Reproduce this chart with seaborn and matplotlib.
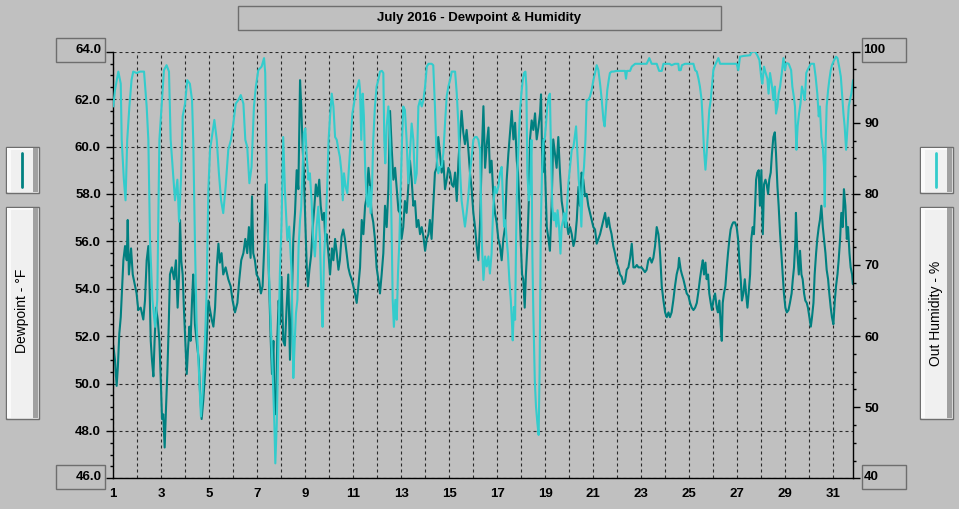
import matplotlib
matplotlib.use("Agg")
import matplotlib.pyplot as plt
from matplotlib.patches import Rectangle
from matplotlib.lines import Line2D
from matplotlib.ticker import MultipleLocator
import seaborn as sns

# ─── data ───────────────────────────────────────────────────────────────────
dew_days = [
    1.00, 1.07, 1.14, 1.19, 1.25, 1.31, 1.36, 1.42, 1.49, 1.56, 1.60, 1.65, 1.74, 1.81, 1.89, 1.97,
    2.04, 2.14, 2.25, 2.32, 2.39, 2.46, 2.50, 2.56, 2.61, 2.67, 2.72, 2.78, 2.85, 2.92, 2.97,
    3.03, 3.08, 3.14, 3.19, 3.25, 3.31, 3.36, 3.44, 3.53, 3.61, 3.68, 3.74, 3.78, 3.83, 3.89, 3.94,
    4.00, 4.06, 4.11, 4.17, 4.22, 4.28, 4.33, 4.40, 4.47, 4.56, 4.61, 4.68, 4.75, 4.82, 4.89, 4.96,
    5.03, 5.10, 5.17, 5.24, 5.31, 5.38, 5.44, 5.51, 5.58, 5.68, 5.79, 5.89, 5.97,
    6.07, 6.17, 6.25, 6.33, 6.42, 6.50, 6.58, 6.65, 6.72, 6.78, 6.83, 6.90, 6.97,
    7.07, 7.15, 7.22, 7.29, 7.35, 7.43, 7.50, 7.56, 7.61, 7.67, 7.72, 7.78, 7.83, 7.89, 7.94,
    8.01, 8.08, 8.15, 8.22, 8.29, 8.36, 8.43,
    8.50, 8.57, 8.64, 8.71, 8.78, 8.83, 8.89, 8.94, 9.00, 9.06, 9.11, 9.17, 9.24, 9.31, 9.38, 9.44,
    9.51, 9.58, 9.64, 9.71, 9.78, 9.83, 9.89, 9.96, 10.03, 10.11, 10.17, 10.24, 10.31, 10.38, 10.44,
    10.51, 10.58, 10.65, 10.72, 10.79, 10.86, 10.93, 11.00, 11.07, 11.14, 11.21, 11.28, 11.35, 11.42,
    11.49, 11.56, 11.63, 11.69, 11.76, 11.83, 11.90, 11.97, 12.04, 12.11, 12.18, 12.25, 12.32, 12.39,
    12.46, 12.53, 12.60, 12.67, 12.74, 12.81, 12.88, 12.94, 13.01, 13.08, 13.15, 13.22, 13.29, 13.36,
    13.43, 13.50, 13.57, 13.64, 13.71, 13.78, 13.85, 13.92, 13.99, 14.06, 14.13, 14.19, 14.26, 14.33,
    14.40, 14.47, 14.54, 14.61, 14.68, 14.75, 14.82, 14.89, 14.96, 15.03, 15.10, 15.17, 15.24, 15.31,
    15.38, 15.44, 15.51, 15.58, 15.65, 15.72, 15.79, 15.86, 15.93, 16.00, 16.07, 16.14, 16.21, 16.28,
    16.35, 16.42, 16.49, 16.56, 16.63, 16.69, 16.76, 16.83, 16.90, 16.97, 17.04, 17.11, 17.18, 17.25,
    17.32, 17.39, 17.46, 17.53, 17.60, 17.67, 17.74, 17.81, 17.86, 17.92, 17.97, 18.03, 18.08, 18.14,
    18.19, 18.25, 18.31, 18.36, 18.43, 18.50, 18.57, 18.64, 18.71, 18.78, 18.82, 18.88, 18.93, 18.99,
    19.06, 19.13, 19.19, 19.26, 19.33, 19.40, 19.47, 19.54, 19.61, 19.68, 19.75, 19.82, 19.89, 19.96,
    20.03, 20.10, 20.17, 20.24, 20.31, 20.38, 20.44, 20.51, 20.58, 20.65, 20.72, 20.79, 20.86, 20.93,
    21.00, 21.07, 21.14, 21.21, 21.28, 21.35, 21.42, 21.49, 21.56, 21.63, 21.69, 21.76, 21.83, 21.90,
    21.97, 22.04, 22.11, 22.18, 22.25, 22.32, 22.39, 22.46, 22.53, 22.60, 22.67, 22.74, 22.81, 22.88,
    22.94, 23.01, 23.08, 23.15, 23.22, 23.29, 23.36, 23.43, 23.50, 23.57, 23.64, 23.71, 23.75, 23.79,
    23.85, 23.92, 23.99, 24.06, 24.13,
    24.19, 24.26, 24.33, 24.40, 24.47, 24.54, 24.57, 24.64, 24.69, 24.75, 24.82, 24.89, 24.96,
    25.03, 25.10, 25.17, 25.24, 25.31, 25.38, 25.44, 25.51, 25.56, 25.61, 25.67, 25.72, 25.78, 25.83,
    25.89, 25.94, 26.00, 26.07, 26.14, 26.19, 26.25, 26.31, 26.35, 26.39, 26.44, 26.50, 26.56, 26.61,
    26.67, 26.72, 26.78, 26.83, 26.90, 26.97, 27.03, 27.08, 27.14, 27.19, 27.25, 27.31, 27.36, 27.42,
    27.47, 27.53, 27.58, 27.64, 27.69, 27.74, 27.78, 27.83, 27.89, 27.94, 28.00, 28.06, 28.11, 28.17,
    28.22, 28.28, 28.33, 28.39, 28.44, 28.50, 28.56, 28.61, 28.67, 28.72, 28.78, 28.83, 28.89, 28.94,
    29.00, 29.06, 29.13, 29.19, 29.26, 29.31, 29.36, 29.42, 29.44, 29.50, 29.56, 29.61, 29.67, 29.72,
    29.78, 29.83, 29.89, 29.94, 30.00, 30.06, 30.11, 30.17, 30.22, 30.28, 30.33, 30.39, 30.44, 30.50,
    30.56, 30.61, 30.67, 30.72, 30.78, 30.83, 30.89, 30.94, 31.00, 31.06, 31.11, 31.17, 31.22, 31.28,
    31.33, 31.39, 31.44, 31.50, 31.56, 31.61, 31.67, 31.72, 31.78, 31.81,
]
dew_vals = [
    51.6, 51.0, 49.9, 50.7, 52.1, 52.8, 53.9, 55.2, 55.8, 55.2, 56.9, 54.6, 55.7, 54.6, 54.2, 53.8,
    53.1, 53.2, 52.7, 53.5, 55.2, 55.8, 54.6, 51.8, 51.0, 50.3, 51.8, 53.2, 52.7, 51.8, 50.4,
    48.5, 48.7, 47.3, 48.8, 50.4, 52.5, 54.6, 54.9, 54.4, 55.2, 53.2, 54.6, 56.9, 55.2, 54.6, 53.2,
    51.8, 50.4, 51.4, 52.4, 51.8, 53.5, 54.6, 52.5, 51.8, 51.0, 49.7, 48.5, 49.3, 50.4, 51.8, 53.5,
    53.1, 52.7, 52.4, 53.2, 54.9, 55.9, 55.1, 55.5, 54.6, 54.9, 54.4, 54.1, 53.5,
    53.0, 53.4, 54.4, 55.2, 55.5, 56.1, 55.5, 56.6, 55.3, 57.9, 55.5, 55.2, 54.6,
    54.4, 53.8, 54.1, 55.8, 58.4, 56.6, 53.9, 51.8, 50.4, 51.8, 49.0, 48.7, 51.8, 53.5, 52.5,
    54.5, 51.8, 51.6, 53.2, 54.6, 51.0, 53.2,
    56.1, 57.2, 59.0, 58.2, 62.8, 61.7, 59.9, 58.9, 56.8, 54.9, 54.1, 54.8, 55.4, 56.6, 57.5, 58.4,
    57.9, 58.6, 57.5, 56.9, 57.2, 56.1, 56.3, 55.5, 54.6, 55.7, 55.2, 56.1, 55.5, 54.8, 55.2,
    56.2, 56.5, 56.1, 55.5, 54.9, 54.6, 54.4, 54.1, 53.8, 53.4, 54.1, 54.9, 56.9, 56.3,
    57.5, 57.9, 59.1, 58.4, 57.2, 56.8, 56.1, 54.9, 54.4, 53.8, 54.6, 55.5, 57.5, 56.6,
    58.2, 61.5, 59.9, 58.6, 59.1, 58.2, 57.3, 57.2, 56.1, 56.6, 57.7, 57.2, 58.3, 59.4,
    58.6, 57.5, 57.7, 56.6, 56.9, 56.3, 56.6, 56.2, 55.6, 56.1, 56.3, 56.9, 56.1, 57.5,
    58.9, 59.1, 60.4, 59.7, 58.9, 59.4, 58.2, 58.6, 59.1, 58.9, 58.4, 58.3, 58.9, 57.7,
    59.4, 60.4, 61.5, 60.6, 60.1, 60.7, 59.9, 58.9, 58.2, 57.2, 56.6, 55.8, 55.2, 56.8,
    59.6, 61.7, 59.1, 60.1, 60.8, 58.9, 59.4, 58.0, 57.2, 56.8, 56.1, 55.8, 55.2, 56.1,
    56.6, 58.6, 59.7, 60.6, 61.5, 60.3, 61.0, 59.4, 58.9, 57.5, 56.1, 54.6, 54.4, 53.2,
    54.6, 55.8, 57.7, 60.3, 61.1, 60.7, 61.4, 60.3, 60.8, 61.4, 62.2, 58.9, 60.3, 58.9,
    56.6, 56.1, 55.6, 57.5, 60.3, 59.7, 59.1, 60.4, 58.9, 57.7, 57.2, 56.6, 56.8, 56.3,
    56.6, 56.3, 55.8, 56.1, 56.9, 58.3, 57.5, 58.9, 58.6, 57.9, 58.0, 57.5, 57.2, 56.9,
    56.6, 56.5, 55.9, 56.1, 56.3, 56.6, 56.9, 57.2, 56.6, 57.0, 56.6, 56.3, 55.8, 55.5,
    55.1, 54.9, 54.6, 54.5, 54.2, 54.3, 54.8, 54.9, 55.3, 55.9, 54.9, 54.9, 55.0, 54.9,
    54.9, 54.9, 54.8, 54.7, 54.8, 55.2, 55.3, 55.1, 55.3, 55.8, 56.6, 56.3, 55.9, 55.3,
    54.1, 53.5, 53.0, 52.8, 53.0,
    52.8, 53.0, 53.5, 54.1, 54.6, 54.9, 55.3, 54.8, 54.6, 54.4, 54.1, 53.8, 53.7,
    53.4, 53.2, 53.1, 53.2, 53.4, 53.9, 54.4, 54.9, 55.2, 54.6, 55.1, 54.4, 54.6, 53.8,
    53.4, 53.1, 53.5, 53.8, 53.2, 53.0, 53.5, 52.4, 51.8, 53.4, 53.8, 54.1, 54.9, 55.5,
    56.1, 56.5, 56.7, 56.8, 56.8, 56.6, 56.1, 55.2, 54.4, 53.5, 53.8, 54.4, 53.8, 53.2,
    53.8, 54.6, 56.1, 56.6, 56.3, 57.5, 58.6, 58.9, 59.0, 57.5, 59.0, 56.3, 58.4, 58.6,
    58.4, 58.0, 58.6, 58.9, 59.7, 60.4, 60.6, 59.7, 58.3, 57.5, 56.3, 55.5, 54.6, 53.8,
    53.2, 53.0, 53.1, 53.4, 53.8, 54.4, 54.9, 56.1, 57.2, 55.5, 54.6, 55.6, 54.6, 54.4,
    53.8, 53.5, 53.4, 53.2, 52.8, 52.4, 52.8, 53.4, 54.6, 55.5, 56.1, 56.6, 56.9, 57.5,
    56.6, 56.1, 55.5, 54.8, 54.4, 53.8, 53.2, 52.8, 52.5, 53.5, 54.1, 54.6, 55.2, 56.1,
    57.2, 56.6, 58.2, 57.5, 56.1, 56.6, 55.5, 54.9, 54.6, 54.2,
]

hum_days = [
    1.00, 1.07, 1.21, 1.31, 1.35, 1.44, 1.51, 1.58, 1.67, 1.76, 1.83, 1.97, 2.11, 2.28, 2.39, 2.46,
    2.53, 2.63, 2.74, 2.83, 2.92, 3.01, 3.11, 3.22, 3.32, 3.39, 3.47, 3.57, 3.67, 3.74, 3.82, 3.89,
    3.99, 4.08, 4.19, 4.28, 4.33, 4.40, 4.47, 4.57, 4.65, 4.72, 4.82, 4.89, 4.96, 5.03, 5.13, 5.21,
    5.31, 5.40, 5.49, 5.58, 5.68, 5.79, 5.90, 6.00, 6.10, 6.21, 6.31, 6.42, 6.50, 6.58, 6.67, 6.76,
    6.86, 6.94, 7.04, 7.18, 7.28, 7.33, 7.39, 7.46, 7.56, 7.64, 7.71, 7.75, 7.81, 7.88, 7.94, 8.01,
    8.08, 8.15, 8.25, 8.33, 8.43,
    8.50, 8.56, 8.61, 8.67, 8.72, 8.78, 8.83, 8.89, 8.94, 9.00, 9.06, 9.13, 9.19, 9.26, 9.33, 9.40,
    9.47, 9.54, 9.61, 9.68, 9.72, 9.78, 9.85, 9.92, 9.97, 10.03, 10.10, 10.17, 10.24, 10.31, 10.38,
    10.44, 10.51, 10.56, 10.61, 10.68, 10.75, 10.82, 10.89, 10.96, 11.03, 11.10, 11.17, 11.24, 11.28,
    11.33, 11.39, 11.44, 11.50, 11.56, 11.61, 11.67, 11.72, 11.78, 11.83, 11.90, 11.97, 12.04, 12.11,
    12.19, 12.25, 12.29, 12.33, 12.39, 12.46, 12.53, 12.58, 12.64, 12.69, 12.75, 12.81, 12.86, 12.92,
    12.97, 13.03, 13.08, 13.15, 13.22, 13.29, 13.36, 13.43, 13.50, 13.57, 13.64, 13.71, 13.78, 13.85,
    13.92, 13.99, 14.06, 14.13, 14.19, 14.26, 14.33, 14.40, 14.47, 14.54, 14.61, 14.68, 14.75, 14.82,
    14.89, 14.96, 15.03, 15.10, 15.17, 15.24, 15.31, 15.38, 15.44, 15.51, 15.58, 15.65, 15.72, 15.79,
    15.86, 15.93, 16.00, 16.07, 16.14, 16.21, 16.28,
    16.35, 16.42, 16.49, 16.56, 16.63, 16.69, 16.76, 16.83, 16.90, 16.97, 17.04, 17.11, 17.18, 17.22,
    17.28, 17.33, 17.39, 17.44, 17.50, 17.56, 17.61, 17.64, 17.69, 17.74, 17.78, 17.83, 17.89, 17.94,
    18.00, 18.06, 18.11, 18.17, 18.21, 18.25, 18.31, 18.36, 18.42, 18.46, 18.50, 18.56, 18.61, 18.67,
    18.72, 18.76, 18.81, 18.86, 18.92, 18.97, 19.03, 19.08, 19.14, 19.19, 19.24, 19.29, 19.35, 19.40,
    19.46, 19.51, 19.57, 19.63, 19.68, 19.74, 19.79, 19.85, 19.90, 19.96, 20.03, 20.10, 20.17, 20.24,
    20.28, 20.33, 20.39, 20.44, 20.50, 20.56, 20.61, 20.67, 20.72, 20.79, 20.86, 20.93, 21.00, 21.07,
    21.14, 21.21, 21.28, 21.35, 21.42, 21.47, 21.53, 21.58, 21.64, 21.69, 21.76, 21.83, 21.97, 22.11,
    22.32, 22.36, 22.40, 22.53, 22.60, 22.74, 22.94, 23.22, 23.33, 23.43, 23.64, 23.74, 23.85, 23.92,
    24.17,
    24.26, 24.40, 24.54, 24.57, 24.64, 24.69, 24.82, 25.03, 25.17, 25.24, 25.31, 25.38, 25.44, 25.51,
    25.56, 25.61, 25.67, 25.72, 25.78, 25.83, 25.89, 25.94, 26.00, 26.07, 26.21, 26.28, 26.42, 26.56,
    26.83, 26.97, 27.04, 27.11, 27.25, 27.53, 27.60, 27.74, 27.83, 27.92, 27.99, 28.04, 28.11, 28.18,
    28.25, 28.30, 28.36, 28.43, 28.50, 28.56, 28.61, 28.67, 28.72, 28.78, 28.85, 28.92, 28.98, 29.04,
    29.14, 29.24, 29.29, 29.35, 29.40, 29.46, 29.51, 29.57, 29.63, 29.69, 29.76, 29.81, 29.87, 29.92,
    30.06, 30.19, 30.26, 30.33, 30.39, 30.44, 30.50, 30.56, 30.61, 30.64, 30.68, 30.72, 30.78, 30.83,
    30.89, 30.94, 31.03, 31.11, 31.17, 31.24, 31.31, 31.36, 31.42, 31.47, 31.53, 31.58, 31.64, 31.69,
    31.75, 31.82,
]
hum_vals = [
    92.3, 94.6, 97.2, 95.5, 87.6, 82.0, 79.1, 87.6, 92.3, 96.0, 97.2, 97.0, 97.2, 97.2, 92.3, 87.6,
    73.5, 65.1, 61.3, 65.0, 87.6, 92.3, 97.4, 98.1, 97.2, 87.6, 83.8, 79.1, 82.0, 76.1, 82.0, 90.9,
    92.7, 96.0, 95.5, 93.2, 87.6, 73.5, 61.8, 54.8, 48.7, 52.0, 59.4, 66.5, 80.5, 86.2, 88.5, 90.4,
    87.6, 82.9, 79.1, 77.3, 81.0, 86.2, 87.6, 89.9, 92.7, 93.2, 93.9, 92.7, 87.6, 86.6, 81.5, 83.8,
    92.3, 95.1, 97.4, 97.9, 99.1, 97.0, 82.9, 71.2, 61.8, 54.8, 47.7, 42.1, 47.7, 59.4, 68.8, 75.9,
    88.0, 80.5, 73.5, 75.4, 68.8,
    54.1, 59.4, 63.2, 65.1, 72.6, 76.3, 78.2, 83.8, 88.5, 89.2, 85.2, 82.0, 82.9, 79.1, 73.5, 71.2,
    75.4, 78.2, 73.5, 64.1, 61.3, 71.2, 75.4, 82.0, 87.6, 90.9, 94.1, 92.3, 88.0, 87.6, 86.2,
    85.2, 82.9, 79.1, 82.9, 81.0, 80.1, 83.8, 87.6, 91.3, 92.7, 94.6, 95.1, 96.0, 94.6,
    87.6, 94.1, 90.9, 82.9, 79.1, 78.2, 81.0, 77.3, 81.0, 87.6, 92.3, 95.1, 96.0, 97.2,
    97.3, 97.0, 87.6, 84.3, 89.5, 92.3, 87.6, 78.2, 65.1, 61.3, 65.1, 62.3, 68.8, 73.5,
    80.5, 87.6, 92.3, 91.8, 87.6, 81.5, 85.7, 89.9, 87.6, 81.5, 82.9, 92.3, 93.2, 92.3,
    93.2, 95.1, 97.9, 98.3, 98.3, 98.3, 98.1, 92.3, 85.2, 82.9, 83.8, 83.8, 85.7, 89.9,
    93.7, 95.1, 96.0, 97.2, 97.2, 97.2, 94.1, 89.5, 83.8, 79.1, 77.3, 75.4, 77.3, 79.6,
    82.9, 85.2, 87.6, 88.0, 88.0, 87.6, 86.2,
    73.5, 67.9, 71.2, 69.8, 71.2, 68.8, 71.6, 78.2, 81.0, 80.1, 81.0, 82.9, 83.8, 80.5,
    75.4, 76.3, 73.5, 71.6, 67.9, 65.1, 61.8, 59.4, 64.1, 62.3, 73.5, 82.9, 87.6, 91.3,
    94.1, 96.0, 97.0, 97.2, 95.1, 82.9, 79.1, 80.5, 87.6, 71.2, 63.2, 53.8, 50.1, 47.7,
    46.1, 54.8, 75.4, 82.9, 87.6, 87.6, 89.9, 92.3, 93.7, 94.1, 85.2, 78.2, 76.3, 77.3,
    75.4, 77.7, 75.4, 71.6, 75.4, 76.3, 77.3, 75.4, 78.2, 81.5, 83.8, 86.2, 86.6, 88.5,
    89.5, 86.2, 82.0, 80.1, 75.4, 82.0, 83.8, 87.6, 93.2, 93.2, 93.7, 94.6, 96.0, 97.0,
    98.1, 97.4, 95.5, 93.2, 90.4, 89.5, 92.3, 94.6, 96.0, 97.0, 97.2, 97.2, 97.3, 97.3,
    97.3, 96.2, 97.3, 97.3, 97.9, 98.3, 98.3, 98.3, 99.1, 98.3, 98.3, 97.3, 97.3, 98.3,
    98.3,
    98.1, 98.3, 98.3, 97.4, 97.4, 98.1, 98.3, 98.3, 98.3, 97.4, 97.2, 96.2, 95.1, 93.2,
    89.9, 86.2, 83.4, 85.7, 89.0, 91.8, 93.2, 95.1, 97.4, 98.1, 99.1, 98.3, 98.3, 98.3,
    98.3, 98.3, 97.4, 99.3, 99.4, 99.5, 100.0, 100.0, 99.5, 98.8, 96.5, 95.5, 97.9, 97.0,
    96.2, 94.1, 97.0, 95.5, 93.2, 95.1, 91.3, 92.3, 94.1, 95.1, 97.0, 99.1, 97.4, 98.4,
    98.3, 97.4, 95.1, 93.7, 92.3, 86.2, 89.5, 91.3, 92.7, 95.1, 94.1, 93.2, 97.0, 97.4,
    98.3, 98.3, 96.5, 94.1, 90.9, 92.3, 88.0, 86.6, 83.8, 78.2, 87.6, 92.3, 94.6, 96.0,
    97.4, 98.1, 98.8, 99.3, 99.1, 97.9, 96.5, 94.1, 91.3, 89.5, 86.2, 88.9, 92.3, 93.2,
    94.1, 96.0,
]

day_ticks = list(range(1, 32))
dew_ticks = [46, 48, 50, 52, 54, 56, 58, 60, 62, 64]
hum_ticks = [40, 50, 60, 70, 80, 90, 100]

TITLE = "July 2016 - Dewpoint & Humidity"
LEFT_LABEL = "Dewpoint - °F"
RIGHT_LABEL = "Out Humidity - %"

# ─── style ──────────────────────────────────────────────────────────────────
BG = "#c0c0c0"
DEW_COLOR = "#008080"
HUM_COLOR = "#33cccc"
EDGE = "#6e6e6e"
W, H = 959, 509

sns.set_style("white")
plt.rcParams["font.family"] = ["Liberation Sans", "DejaVu Sans"]
plt.rcParams["text.color"] = "black"
plt.rcParams["xtick.color"] = "black"
plt.rcParams["ytick.color"] = "black"


def fx(x):
    return x / W


def fy(y):
    return 1 - y / H


def rect(fig, x0, y0, x1, y1, face, edge="none", lw=1.0):
    fig.add_artist(Rectangle((fx(x0), fy(y1)), fx(x1) - fx(x0), fy(y0) - fy(y1),
                             transform=fig.transFigure, facecolor=face,
                             edgecolor=edge, lw=lw))


def panel(fig, x0, y0, x1, y1):
    rect(fig, x0, y0, x1, y1, "#f0f0f0", EDGE)
    rect(fig, x0 + 1, y0 + 1, x0 + 5, y1 - 1, "#fafafa")
    rect(fig, x0 + 1, y0 + 1, x1 - 1, y0 + 3, "#fafafa")
    rect(fig, x1 - 5.5, y0 + 1, x1 - 1, y1 - 1, "#a0a0a0")


fig = plt.figure(figsize=(W / 100, H / 100), dpi=100, facecolor=BG)
ax = fig.add_axes([fx(113.3), fy(478.3), fx(853.3) - fx(113.3), (478.3 - 51.7) / H])
ax.set_facecolor(BG)
ax2 = ax.twinx()

sns.lineplot(x=dew_days, y=dew_vals, ax=ax, color=DEW_COLOR, lw=1.5,
             estimator=None, sort=False)
sns.lineplot(x=hum_days, y=hum_vals, ax=ax2, color=HUM_COLOR, lw=1.5,
             estimator=None, sort=False)

ax.set_xlim(1, 31.83)
ax.set_ylim(46, 64)
ax2.set_ylim(40, 100)
ax.set_xlabel("")
ax.set_ylabel("")
ax2.set_ylabel("")

tick_font = dict(fontsize=9.5, fontweight="bold", color="black")
ax.set_xticks(day_ticks)
ax.set_xticklabels([str(d) if d % 2 else "" for d in day_ticks], **tick_font)
ax.set_yticks(dew_ticks)
ax.set_yticklabels(["" if v in (46, 64) else f"{v:.1f}" for v in dew_ticks], **tick_font)
ax.yaxis.set_minor_locator(MultipleLocator(0.5))
ax2.set_yticks(hum_ticks)
ax2.set_yticklabels(["" if v in (40, 100) else str(v) for v in hum_ticks], **tick_font)
ax2.yaxis.set_minor_locator(MultipleLocator(2.5))

ax.tick_params(axis="x", which="major", direction="out", length=5, width=1,
               color="black", pad=2)
ax.tick_params(axis="y", which="major", direction="out", length=5, width=1,
               color="black", pad=4)
ax.tick_params(axis="y", which="minor", direction="out", length=2.4, width=1,
               color="black", left=True)
ax2.tick_params(axis="y", which="major", direction="out", length=5, width=1,
                color="black", pad=3)
ax2.tick_params(axis="y", which="minor", direction="out", length=2.4, width=1,
                color="black", right=True)

ax.grid(True, which="major", color="#2a2a2a", linestyle=(0, (2.7, 2.7)), lw=0.8)
ax2.grid(False)
ax.set_axisbelow(True)

for name in ("top", "right"):
    ax.spines[name].set_visible(False)
for name in ("left", "bottom"):
    ax.spines[name].set_color("black")
    ax.spines[name].set_linewidth(1)
for name in ("top", "left", "bottom"):
    ax2.spines[name].set_visible(False)
ax2.spines["right"].set_color("black")
ax2.spines["right"].set_linewidth(1)

# title box
rect(fig, 238.3, 6.3, 720.7, 30.3, BG, EDGE)
fig.text(fx(479.5), fy(18.3), TITLE, ha="center", va="center",
         fontsize=9.5, fontweight="bold", color="black")

# boxed end labels of the value axes
for y0, y1, txt_l, txt_r in [(38.3, 61.7, "64.0", "100"), (465.3, 488.7, "46.0", "40")]:
    rect(fig, 56, y0, 105, y1, BG, EDGE)
    rect(fig, 861.7, y0, 905.7, y1, BG, EDGE)
    yc = (y0 + y1) / 2
    fig.text(fx(101.7), fy(yc), txt_l, ha="right", va="center", **tick_font)
    fig.text(fx(863.5), fy(yc), txt_r, ha="left", va="center", **tick_font)

# side legend panels
panel(fig, 6, 147.3, 38.7, 193.3)
panel(fig, 6, 206.7, 38.7, 419.3)
panel(fig, 920, 147.3, 952.7, 193.3)
panel(fig, 920, 206.7, 952.7, 419.3)
fig.add_artist(Line2D([fx(22), fx(22)], [fy(153), fy(187)], transform=fig.transFigure,
                      color=DEW_COLOR, lw=2))
fig.add_artist(Line2D([fx(936.3), fx(936.3)], [fy(153), fy(187)], transform=fig.transFigure,
                      color=HUM_COLOR, lw=2))
fig.text(fx(22), fy(311), LEFT_LABEL, rotation=90, ha="center", va="center",
         fontsize=10, color="black")
fig.text(fx(936.3), fy(313), RIGHT_LABEL, rotation=90, ha="center", va="center",
         fontsize=10, color="black")

fig.savefig("out.png", dpi=100, facecolor=BG)
